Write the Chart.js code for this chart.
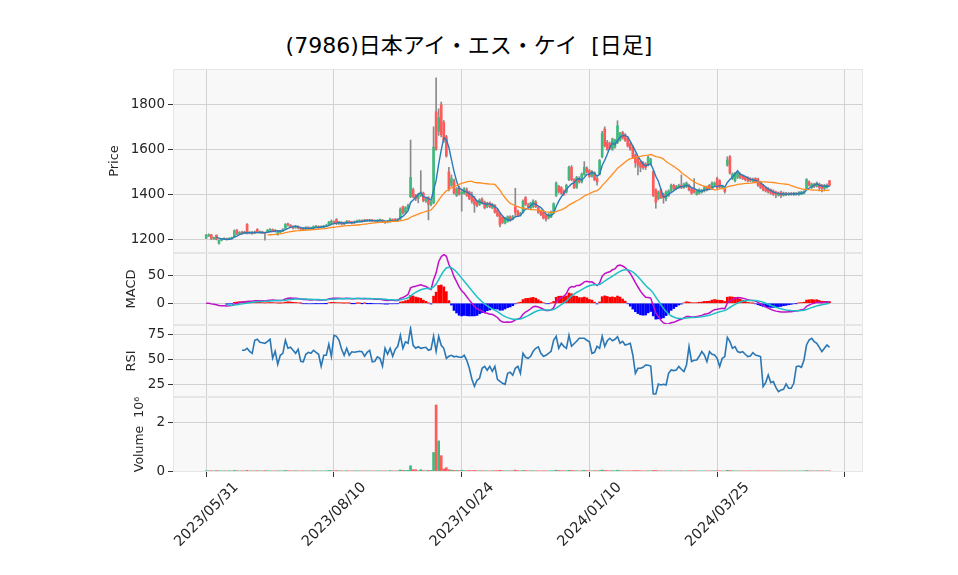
<!DOCTYPE html>
<html>
<head>
<meta charset="utf-8">
<script src="https://cdn.jsdelivr.net/npm/chart.js@4.4.0/dist/chart.umd.min.js"></script>
<style>
body { margin: 0; background: #fff; width: 958px; height: 575px; position: relative; overflow: hidden; }
canvas { position: absolute; left: 0; }
#title { position: absolute; left: -10px; top: 33px; width: 958px; text-align: center; white-space: pre;
         font: 22px "DejaVu Sans", "Noto Sans CJK JP"; line-height: 25px; color: #000; }
</style>
</head>
<body>
<div id="title">(7986)日本アイ・エス・ケイ  [日足]</div>
<canvas id="cPrice" width="958" height="184" style="top:69px"></canvas>
<canvas id="cMacd" width="958" height="72" style="top:253px"></canvas>
<canvas id="cRsi" width="958" height="72" style="top:325px"></canvas>
<canvas id="cVol" width="958" height="178" style="top:397px"></canvas>
<script>
// x axis: trading day index, one tick every 50 sessions
var xTicks = [0, 50, 100, 150, 200, 250];
var xTickLabels = ['2023/05/31', '2023/08/10', '2023/10/24', '2024/01/10', '2024/03/25', ''];

var open = [
  1205,1215,1220,1202,1218,1182,1196,1200,1203,1200,
  1203,1210,1240,1226,1232,1226,1266,1228,1232,1228,
  1244,1230,1233,1229,1234,1240,1243,1240,1222,1232,
  1238,1250,1268,1262,1256,1252,1257,1250,1248,1246,
  1252,1247,1250,1253,1257,1252,1255,1258,1262,1270,
  1278,1288,1270,1275,1268,1272,1280,1276,1273,1277,
  1280,1284,1281,1286,1282,1285,1283,1280,1283,1285,
  1280,1276,1278,1288,1290,1284,1290,1345,1320,1335,
  1390,1420,1395,1382,1396,1405,1370,1385,1355,1362,
  1767,1680,1797,1720,1656,1500,1440,1460,1395,1430,
  1402,1405,1420,1410,1390,1380,1365,1355,1378,1365,
  1345,1362,1340,1350,1330,1310,1300,1272,1280,1300,
  1290,1345,1325,1310,1320,1385,1350,1340,1345,1365,
  1340,1325,1320,1305,1295,1300,1318,1395,1435,1430,
  1415,1410,1465,1520,1465,1430,1470,1455,1488,1515,
  1505,1480,1495,1470,1490,1567,1690,1630,1625,1600,
  1610,1630,1640,1675,1665,1650,1625,1610,1575,1560,
  1545,1540,1535,1530,1540,1500,1420,1380,1420,1400,
  1380,1395,1415,1440,1425,1430,1440,1430,1435,1440,
  1425,1420,1400,1405,1410,1415,1432,1440,1425,1440,
  1470,1460,1430,1422,1530,1567,1470,1460,1475,1490,
  1480,1475,1475,1470,1458,1470,1468,1455,1440,1430,
  1425,1420,1415,1410,1395,1410,1395,1405,1398,1405,
  1398,1405,1398,1400,1405,1425,1455,1430,1445,1435,
  1445,1440,1425,1430,1460
];
var high = [
  1222,1224,1222,1210,1220,1198,1203,1206,1205,1207,
  1210,1242,1244,1234,1236,1236,1270,1234,1235,1237,
  1247,1236,1236,1232,1244,1248,1246,1243,1236,1240,
  1248,1270,1272,1266,1260,1262,1260,1254,1252,1256,
  1256,1254,1260,1262,1260,1260,1262,1266,1280,1286,
  1282,1292,1280,1278,1276,1284,1283,1280,1282,1285,
  1287,1286,1289,1288,1289,1288,1286,1287,1290,1288,
  1283,1284,1294,1291,1292,1292,1340,1348,1345,1356,
  1641,1428,1400,1405,1505,1410,1388,1390,1372,1700,
  1918,1780,1810,1728,1662,1520,1486,1468,1430,1436,
  1416,1430,1428,1414,1410,1390,1372,1380,1384,1370,
  1365,1366,1360,1354,1334,1315,1304,1298,1304,1305,
  1306,1427,1330,1320,1375,1390,1360,1365,1376,1372,
  1346,1330,1324,1310,1315,1325,1362,1455,1440,1434,
  1420,1445,1525,1528,1470,1480,1478,1495,1545,1522,
  1510,1505,1500,1475,1555,1680,1700,1640,1632,1650,
  1646,1727,1676,1680,1670,1655,1630,1615,1580,1565,
  1550,1545,1540,1570,1560,1505,1425,1415,1425,1405,
  1415,1420,1445,1445,1440,1445,1486,1450,1455,1445,
  1430,1470,1420,1425,1422,1435,1436,1444,1455,1455,
  1476,1465,1440,1426,1567,1572,1495,1498,1500,1495,
  1485,1480,1478,1474,1472,1474,1472,1458,1444,1434,
  1430,1424,1420,1414,1410,1414,1410,1409,1408,1408,
  1409,1408,1412,1414,1416,1470,1460,1450,1449,1455,
  1450,1444,1444,1446,1462
];
var low = [
  1203,1212,1198,1199,1197,1178,1193,1198,1196,1198,
  1201,1208,1220,1222,1222,1224,1224,1224,1222,1225,
  1228,1227,1225,1196,1230,1236,1234,1232,1218,1228,
  1234,1246,1258,1252,1246,1248,1246,1242,1240,1242,
  1244,1244,1248,1250,1248,1250,1252,1255,1260,1268,
  1268,1265,1266,1264,1265,1270,1272,1268,1270,1274,
  1277,1276,1278,1279,1279,1278,1276,1277,1280,1274,
  1270,1273,1276,1280,1282,1281,1288,1312,1316,1330,
  1385,1385,1372,1362,1390,1366,1364,1286,1348,1358,
  1595,1662,1655,1630,1565,1415,1435,1400,1390,1396,
  1325,1400,1390,1376,1360,1320,1344,1350,1356,1335,
  1340,1340,1336,1316,1300,1255,1270,1268,1276,1280,
  1286,1300,1300,1304,1316,1350,1338,1336,1340,1340,
  1315,1305,1290,1280,1290,1296,1315,1390,1405,1400,
  1395,1405,1460,1460,1425,1426,1450,1450,1484,1495,
  1475,1476,1460,1440,1486,1562,1610,1595,1600,1595,
  1605,1625,1636,1645,1635,1610,1595,1560,1520,1486,
  1500,1512,1510,1526,1530,1390,1338,1375,1380,1360,
  1370,1390,1410,1420,1420,1426,1425,1426,1430,1415,
  1400,1405,1396,1400,1405,1410,1415,1420,1420,1436,
  1425,1428,1425,1405,1525,1490,1465,1455,1470,1470,
  1465,1460,1455,1456,1454,1450,1435,1425,1415,1410,
  1405,1400,1395,1385,1392,1385,1392,1394,1395,1396,
  1395,1396,1395,1398,1402,1420,1436,1426,1430,1432,
  1415,1410,1420,1427,1436
];
var close = [
  1218,1220,1203,1208,1200,1195,1200,1203,1199,1204,
  1206,1238,1224,1230,1226,1232,1228,1230,1226,1233,
  1230,1232,1228,1226,1240,1242,1238,1236,1232,1236,
  1244,1266,1264,1256,1250,1256,1250,1246,1244,1252,
  1248,1250,1256,1258,1252,1256,1258,1262,1276,1280,
  1272,1270,1276,1268,1272,1280,1275,1272,1278,1281,
  1283,1280,1285,1283,1285,1282,1280,1283,1286,1279,
  1276,1280,1290,1283,1285,1287,1335,1318,1340,1350,
  1475,1390,1380,1398,1402,1372,1378,1355,1365,1610,
  1600,1740,1665,1640,1570,1425,1470,1405,1425,1400,
  1410,1425,1395,1380,1370,1355,1350,1375,1362,1340,
  1360,1345,1355,1320,1305,1265,1275,1295,1300,1285,
  1300,1320,1305,1315,1370,1355,1345,1360,1370,1345,
  1320,1310,1295,1290,1310,1320,1358,1450,1410,1405,
  1400,1440,1520,1465,1430,1475,1455,1490,1520,1500,
  1480,1500,1465,1455,1550,1670,1615,1600,1605,1645,
  1640,1705,1670,1650,1640,1615,1600,1565,1540,1530,
  1520,1518,1520,1565,1555,1395,1365,1410,1385,1385,
  1410,1415,1440,1425,1435,1440,1430,1445,1450,1420,
  1405,1410,1415,1420,1418,1430,1420,1425,1450,1450,
  1430,1432,1435,1412,1553,1495,1490,1493,1495,1475,
  1470,1465,1460,1462,1468,1455,1440,1430,1420,1415,
  1410,1405,1400,1400,1405,1395,1405,1398,1404,1400,
  1405,1400,1408,1410,1412,1465,1440,1445,1435,1450,
  1430,1425,1440,1440,1440
];
var volume = [
  31000,22000,28000,19000,35000,26000,18000,24000,21000,27000,
  23000,38000,30000,20000,25000,22000,41000,19000,24000,21000,
  29000,17000,22000,33000,26000,24000,18000,21000,27000,20000,
  25000,39000,28000,23000,22000,26000,19000,21000,24000,20000,
  22000,18000,26000,24000,19000,23000,21000,25000,36000,32000,
  27000,34000,22000,24000,19000,28000,21000,20000,23000,25000,
  22000,19000,24000,21000,20000,22000,18000,23000,25000,21000,
  24000,20000,33000,24000,22000,26000,58000,42000,38000,45000,
  230000,70000,70000,30000,70000,32000,28000,45000,38000,770000,
  2700000,1240000,640000,100000,150000,70000,52000,41000,36000,33000,
  45000,30000,28000,35000,31000,40000,27000,25000,29000,26000,
  24000,22000,25000,30000,33000,45000,30000,26000,24000,22000,
  28000,52000,30000,24000,38000,32000,22000,24000,27000,21000,
  23000,20000,26000,24000,22000,25000,30000,48000,36000,28000,
  24000,30000,44000,38000,30000,28000,24000,30000,42000,30000,
  26000,24000,28000,26000,34000,55000,40000,30000,26000,32000,
  28000,48000,30000,26000,24000,28000,22000,30000,34000,32000,
  26000,22000,20000,28000,22000,40000,36000,26000,24000,22000,
  25000,20000,24000,19000,21000,22000,26000,20000,22000,24000,
  23000,27000,19000,20000,18000,22000,20000,22000,24000,21000,
  28000,22000,19000,18000,42000,36000,26000,24000,22000,20000,
  19000,21000,18000,20000,19000,22000,24000,22000,20000,21000,
  19000,18000,22000,20000,19000,21000,18000,20000,17000,19000,
  18000,20000,17000,19000,21000,36000,25000,22000,20000,24000,
  22000,26000,20000,19000,24000
];
// RSI(14), first value on session 14
var rsiValues = [
  null,null,null,null,null,null,null,null,null,null,
  null,null,null,null,59,59,61,58,56,69,
  70,67,66.5,66,68,70,51,58,45,54,
  56,69,61,62,59,56,60,48,47.5,55,
  57,56,59,57,55,43,54,54,65,53,
  74,73,69,60,54,61,54,57.5,57,57.5,
  58,57.5,53,57,59,47.5,48,52.5,51,43,
  61,55,61,53,60,63,74,61,67.5,66,
  81,64,61,62.5,61,61.5,62,59,60,73,
  58,73,64,61,51,53,54,52.5,53,52,
  52,54,49,41,30,23,29,31,41,43,
  39,43,38,43,30,28,26,25,36,37,
  34,41,43,36,56,52,51,53,58,61,
  62.5,56,53,54,56,58,69,73,61,66,
  63,61,74,63,65.5,68,71,71,71,69,
  67.5,56,57,63,61,73,63,68.5,71,68.5,
  70,72.7,66,68,64.3,65,66,54.3,36,41,
  41,42,44.3,44,43.3,15.3,15.3,25.3,24.3,25,
  24.3,36,39.3,38.7,39.3,42.7,40,37.7,44.3,62.7,
  47.7,49,49.3,53,57.7,54.3,47.7,57.7,55,54.3,
  51,42.7,51,52.7,72,67.7,61,62.7,57.7,56.7,
  57.7,55,52.7,53.3,56.7,54.3,53.5,52.7,22.7,26.7,
  34.3,26.7,27.7,22,17.7,19.3,20,25.3,21,21,
  26,42.7,43.3,42,49.3,64.3,69.3,71,67.7,66,
  62,57.7,61,64.3,62
];

var upColor = '#3dbb7e';
var downColor = '#ff5b5b';
var wickColor = '#8a8a8a';
var gridColor = '#d2d2d2';
var tickMarkColor = '#333';

Chart.defaults.font.family = '"DejaVu Sans", "Noto Sans CJK JP", sans-serif';
Chart.defaults.font.size = 13;
Chart.defaults.color = '#262626';

// moving averages and MACD derived from the closes
function movingAverage(src, n) {
    return src.map(function(v, i) {
        if (i < n - 1) return null;
        var s = 0;
        for (var k = i - n + 1; k <= i; k++) s += src[k];
        return s / n;
    });
}
function ema(src, n) {
    var a = 2 / (n + 1), out = [];
    src.forEach(function(v, i) {
        out.push(i === 0 ? v : a * v + (1 - a) * out[i - 1]);
    });
    return out;
}

var ma5 = movingAverage(close, 5);
var ma25 = movingAverage(close, 25);
var ema12 = ema(close, 12);
var ema26 = ema(close, 26);
var macd = ema12.map(function(v, i) { return v - ema26[i]; });
var signal = ema(macd, 9);
var hist = macd.map(function(v, i) { return v - signal[i]; });

var isUp = close.map(function(c, i) { return c >= open[i]; });
var candleColors = isUp.map(function(u) { return u ? upColor : downColor; });

function pts(arr, from) {
    return arr.map(function(v, i) {
        return {x: i, y: (i < (from || 0) || v === null) ? null : v};
    });
}

// background + frame of each panel
var panelFrame = {
    id: 'panelFrame',
    beforeDraw: function(chart) {
        var a = chart.chartArea, ctx = chart.ctx;
        ctx.save();
        ctx.fillStyle = '#f8f8f8';
        ctx.fillRect(a.left, a.top, a.right - a.left, a.bottom - a.top);
        ctx.restore();
    },
    afterDraw: function(chart) {
        var a = chart.chartArea, ctx = chart.ctx;
        ctx.save();
        ctx.strokeStyle = '#e6e6e6';
        ctx.lineWidth = 1;
        ctx.strokeRect(a.left + 0.5, a.top + 0.5, a.right - a.left - 1, a.bottom - a.top - 1);
        ctx.restore();
    }
};

function makePanel(id, datasets, yMin, yMax, yTicks, yTitle, titleCenter, showX, fmt, titleSize) {
    var tSize = titleSize || 13;
    return new Chart(document.getElementById(id), {
        type: 'line',
        data: {datasets: datasets},
        plugins: [panelFrame],
        options: {
            responsive: false,
            animation: false,
            devicePixelRatio: 1,
            layout: {padding: {left: 0, right: 95, top: 0, bottom: 0}},
            plugins: {legend: {display: false}, tooltip: {enabled: false}},
            elements: {point: {radius: 0}},
            scales: {
                x: {
                    type: 'linear', min: -13, max: 257.1, offset: false,
                    grid: {color: gridColor, offset: false, drawTicks: showX, tickLength: 5, tickColor: tickMarkColor},
                    border: {display: false},
                    ticks: {
                        display: showX, autoSkip: false, minRotation: 45, maxRotation: 45,
                        labelOffset: 30, padding: 2, font: {size: 14.5},
                        callback: function(v) { var k = xTicks.indexOf(v); return k < 0 ? '' : xTickLabels[k]; }
                    },
                    afterBuildTicks: function(s) { s.ticks = xTicks.map(function(v) { return {value: v}; }); },
                    afterFit: function(s) { s.height = showX ? 103 : 0; s.paddingLeft = 0; s.paddingRight = 0; }
                },
                y: {
                    min: yMin, max: yMax,
                    grid: {color: gridColor, tickLength: 5, tickColor: tickMarkColor},
                    border: {display: false},
                    ticks: {autoSkip: false, padding: 3, font: {size: 13.5}, callback: fmt || function(v) { return v; }},
                    title: {display: true, text: yTitle, font: {size: tSize},
                            padding: {top: titleCenter - 0.6 * tSize, bottom: 0}},
                    afterBuildTicks: function(s) { s.ticks = yTicks.map(function(v) { return {value: v}; }); },
                    afterFit: function(s) { s.width = 173; s.paddingTop = 0; s.paddingBottom = 0; }
                }
            }
        }
    });
}

// price panel: wicks, bodies, moving averages
makePanel('cPrice', [
    {type: 'line', data: pts(ma25), borderColor: '#ff8c1f', borderWidth: 1.3, order: 0},
    {type: 'line', data: pts(ma5), borderColor: '#2a7ab8', borderWidth: 1.4, order: 1},
    {type: 'bar', data: close.map(function(c, i) { return {x: i, y: [open[i], c]}; }),
     backgroundColor: candleColors, barThickness: 2, grouped: false, minBarLength: 1, order: 2},
    {type: 'bar', data: close.map(function(c, i) { return {x: i, y: [low[i], high[i]]}; }),
     backgroundColor: wickColor, barThickness: 1, grouped: false, order: 3}
], 1139, 1957, [1200, 1400, 1600, 1800], 'Price', 115, false);

// MACD panel
makePanel('cMacd', [
    {type: 'line', data: pts(signal, 8), borderColor: '#1fbfc6', borderWidth: 1.5, order: 0},
    {type: 'line', data: pts(macd), borderColor: '#c010c8', borderWidth: 1.5, order: 1},
    {type: 'bar', data: pts(hist, 8), barThickness: 2, grouped: false, order: 2,
     backgroundColor: hist.map(function(h) { return h >= 0 ? '#ff0000' : '#0000ff'; })}
], -39.7, 92, [0, 50], 'MACD', 132, false);

// RSI panel
makePanel('cRsi', [
    {type: 'line', data: pts(rsiValues), borderColor: '#2a77b4', borderWidth: 1.6}
], 12.3, 84.3, [25, 50, 75], 'RSI', 132, false);

// volume panel with the date axis
makePanel('cVol', [
    {type: 'bar', data: pts(volume), backgroundColor: candleColors, barThickness: 2, grouped: false}
], -24000, 3024000, [0, 2000000], 'Volume  10\u2076', 140, true,
   function(v) { return String(v / 1000000); }, 12.5);
</script>
</body>
</html>
